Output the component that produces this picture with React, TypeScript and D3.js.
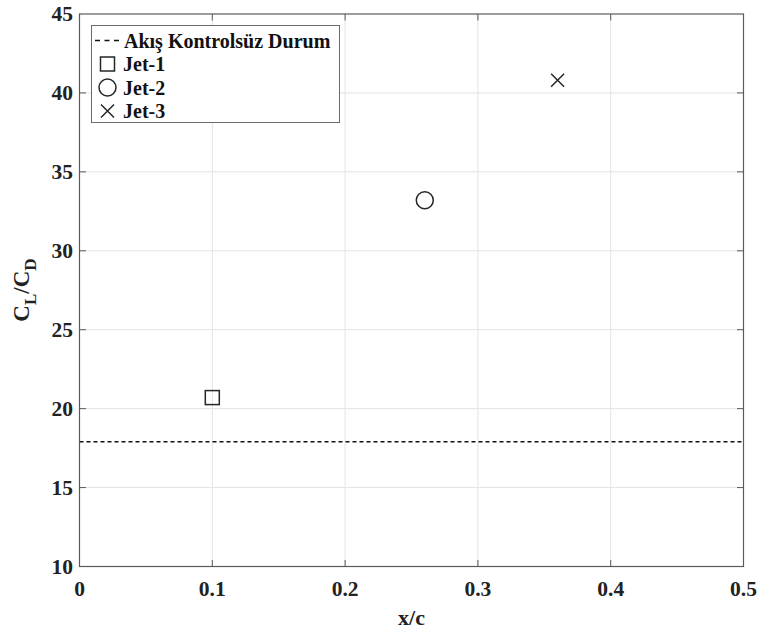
import React from "react";
import * as d3 from "d3";

const xTicks = [0, 0.1, 0.2, 0.3, 0.4, 0.5];
const yTicks = [10, 15, 20, 25, 30, 35, 40, 45];
const baselineValue = 17.9;
const jetNames = ["Jet-1", "Jet-2", "Jet-3"];
const jetX = [0.1, 0.26, 0.36];
const jetY = [20.7, 33.2, 40.8];
const jetSymbols = ["square", "circle", "cross"];
const legendLabels = ["Akış Kontrolsüz Durum", "Jet-1", "Jet-2", "Jet-3"];

const W = 759, H = 630;
const L = 79.5, R = 743.5, T = 14, B = 566.5;
const FONT = "Liberation Serif";
const INK = "#262626";

function Marker({ kind, cx, cy }: { kind: string; cx: number; cy: number }) {
  if (kind === "square") {
    const s = 14;
    return <rect x={cx - s / 2} y={cy - s / 2} width={s} height={s} fill="none" stroke={INK} strokeWidth={1.5} />;
  }
  if (kind === "circle") {
    return <circle cx={cx} cy={cy} r={8.5} fill="none" stroke={INK} strokeWidth={1.5} />;
  }
  const h = 6.5;
  return (
    <path d={`M${cx - h},${cy - h}L${cx + h},${cy + h}M${cx - h},${cy + h}L${cx + h},${cy - h}`} stroke={INK} strokeWidth={1.5} fill="none" />
  );
}

export default function App() {
  const x = d3.scaleLinear().domain([0, 0.5]).range([L, R]);
  const y = d3.scaleLinear().domain([10, 45]).range([B, T]);
  const tickLen = 6.5;

  const legX = 91.5, legY = 25.5, legW = 248, legH = 97;
  const rowY = [40.5, 64, 87.5, 111];
  const ts = { fontFamily: FONT, fontWeight: "bold" } as React.CSSProperties;

  return (
    <div style={{ position: "absolute", left: 0, top: 0, width: W, height: H, fontFamily: FONT }}>
    <svg width={W} height={H} style={{ display: "block", background: "#fff" }}>
      <rect x={0} y={0} width={W} height={H} fill="#fff" />
      {xTicks.slice(1, -1).map((t) => (
        <line key={"gx" + t} x1={x(t)} x2={x(t)} y1={T} y2={B} stroke="#e3e3e3" strokeWidth={1} />
      ))}
      {yTicks.slice(1, -1).map((t) => (
        <line key={"gy" + t} x1={L} x2={R} y1={y(t)} y2={y(t)} stroke="#e3e3e3" strokeWidth={1} />
      ))}
      <line x1={L} x2={R} y1={y(baselineValue)} y2={y(baselineValue)} stroke="#111" strokeWidth={1.5} strokeDasharray="4,3" />
      {jetX.map((v, i) => (
        <Marker key={jetNames[i]} kind={jetSymbols[i]} cx={x(v)} cy={y(jetY[i])} />
      ))}
      <rect x={L} y={T} width={R - L} height={B - T} fill="none" stroke="#5a5a5a" strokeWidth={1.2} />
      {xTicks.slice(1, -1).map((t) => (
        <g key={"tx" + t}>
          <line x1={x(t)} x2={x(t)} y1={B} y2={B - tickLen} stroke="#5a5a5a" />
          <line x1={x(t)} x2={x(t)} y1={T} y2={T + tickLen} stroke="#5a5a5a" />
        </g>
      ))}
      {yTicks.slice(1, -1).map((t) => (
        <g key={"ty" + t}>
          <line x1={L} x2={L + tickLen} y1={y(t)} y2={y(t)} stroke="#5a5a5a" />
          <line x1={R} x2={R - tickLen} y1={y(t)} y2={y(t)} stroke="#5a5a5a" />
        </g>
      ))}
      {xTicks.map((t) => (
        <text key={"lx" + t} x={x(t)} y={596} textAnchor="middle" style={{ ...ts, fontSize: "21.5px" }} fill="#222">
          {String(t)}
        </text>
      ))}
      {yTicks.map((t) => (
        <text key={"ly" + t} x={73} y={y(t) + 7} textAnchor="end" style={{ ...ts, fontSize: "21.5px" }} fill="#222">
          {String(t)}
        </text>
      ))}
      <text x={(L + R) / 2} y={625} textAnchor="middle" style={{ ...ts, fontSize: "22px" }} fill="#222">x/c</text>
      <text transform={`translate(29,290) rotate(-90)`} textAnchor="middle" style={{ ...ts, fontSize: "23px" }} fill="#222">
        C<tspan style={{ fontSize: "17px" }} dy={7}>L</tspan><tspan dy={-7}>/C</tspan><tspan style={{ fontSize: "17px" }} dy={7}>D</tspan>
      </text>
      <rect x={legX} y={legY} width={legW} height={legH} fill="#fff" stroke="#6a6a6a" strokeWidth={1} />
      <line x1={95} x2={122} y1={rowY[0]} y2={rowY[0]} stroke="#111" strokeWidth={1.5} strokeDasharray="5,4.5" />
      <Marker kind="square" cx={107.5} cy={rowY[1]} />
      <Marker kind="circle" cx={107.5} cy={rowY[2]} />
      <Marker kind="cross" cx={107.5} cy={rowY[3]} />
      {legendLabels.map((lab, i) => (
        <text key={lab} x={i === 0 ? 124 : 123} y={rowY[i] + 7} style={{ ...ts, fontSize: "20px" }} fill="#111">
          {lab}
        </text>
      ))}
    </svg>
    </div>
  );
}
